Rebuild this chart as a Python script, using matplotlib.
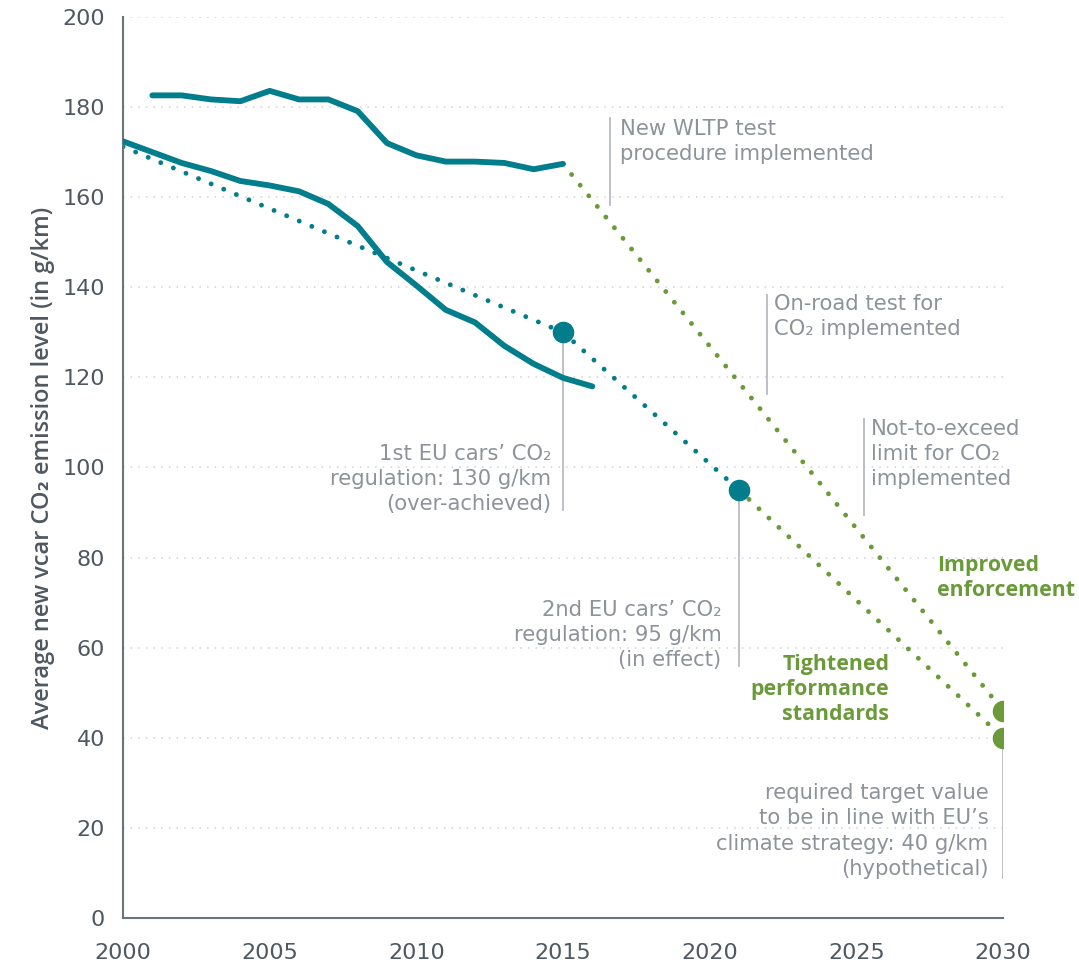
import numpy as np
import matplotlib.pyplot as plt

### New-car CO2 emission levels and EU targets, 2000-2030

# measured fleet average, on-road estimate (upper solid line)
real_years = np.arange(2001, 2016)
real_values = [182.6, 182.6, 181.7, 181.3, 183.6, 181.7, 181.7, 179.1,
               172.0, 169.3, 167.9, 167.9, 167.6, 166.2, 167.4]

# official type-approval values (lower solid line)
official_years = np.arange(2000, 2017)
official_values = [172.4, 170.0, 167.6, 165.8, 163.6, 162.6, 161.3, 158.5,
                   153.6, 145.6, 140.4, 135.0, 132.2, 127.0, 123.0, 119.9, 118.0]

# regulation targets (blue dotted) and 2030 paths (green dotted)
target_years = [2000, 2015, 2021]
target_values = [171.2, 130, 95]
enforcement_years = [2015, 2030]
enforcement_values = [167.4, 46]
standards_years = [2021, 2030]
standards_values = [95, 40]

teal = "#017d8c"
green = "#6b9a3a"
note_grey = "#8d9399"
leader_grey = "#b8bcc0"
axis_grey = "#4f5861"

plt.rcParams['font.family'] = ['DejaVu Sans']

fig = plt.figure(figsize=(10.79, 9.65), dpi=100)
ax = fig.add_axes([0.114, 0.0487, 0.8156, 0.9337])

# grid
for v in range(20, 201, 20):
    ax.axhline(v, color="#cfd2d5", lw=1.1, ls=(0, (1, 4)), zorder=0)

dots = dict(lw=3.5, ls=(0, (0.01, 2.8)), dash_capstyle='round')
ax.plot(target_years, target_values, color=teal, zorder=2, **dots)
ax.plot(enforcement_years, enforcement_values, color=green, zorder=2, **dots)
ax.plot(standards_years, standards_values, color=green, zorder=2, **dots)

ax.plot(real_years, real_values, color=teal, lw=4.2, solid_capstyle='round', zorder=3)
ax.plot(official_years, official_values, color=teal, lw=4.2, solid_capstyle='round', zorder=3)

ax.plot(target_years[1:], target_values[1:], 'o', color=teal, ms=14.5, zorder=4)
ax.plot([enforcement_years[1], standards_years[1]],
        [enforcement_values[1], standards_values[1]], 'o', color=green, ms=14.5, zorder=4)

# leader lines
leaders = [(2016.6, 158.2, 177.6), (2021.95, 116.3, 138.3), (2025.25, 89.5, 110.8),
           (2015, 90.5, 130), (2021, 56.0, 95), (2030, 8.8, 40)]
for lx, y0, y1 in leaders:
    ax.plot([lx, lx], [y0, y1], color=leader_grey, lw=1.3, zorder=1)

note = dict(color=note_grey, fontsize=15.2, linespacing=1.32)
ax.text(2016.95, 177.4, "New WLTP test\nprocedure implemented", ha='left', va='top', **note)
ax.text(2022.2, 138.6, "On-road test for\nCO₂ implemented", ha='left', va='top', **note)
ax.text(2025.5, 110.8, "Not-to-exceed\nlimit for CO₂\nimplemented", ha='left', va='top', **note)
ax.text(2014.6, 105.3, "1st EU cars’ CO₂\nregulation: 130 g/km\n(over-achieved)", ha='right', va='top', **note)
ax.text(2020.4, 70.6, "2nd EU cars’ CO₂\nregulation: 95 g/km\n(in effect)", ha='right', va='top', **note)
ax.text(2029.5, 29.9, "required target value\nto be in line with EU’s\nclimate strategy: 40 g/km\n(hypothetical)",
        ha='right', va='top', **note)

strong = dict(color=green, fontsize=15.4, fontweight='bold', linespacing=1.25,
              family=['Open Sans', 'DejaVu Sans'])
ax.text(2026.12, 58.5, "Tightened\nperformance\nstandards", ha='right', va='top', **strong)
ax.text(2027.74, 80.5, "Improved\nenforcement", ha='left', va='top', **strong)

ax.set_xlim(2000, 2030)
ax.set_ylim(0, 200)
ax.set_xticks(range(2000, 2031, 5))
ax.set_yticks(range(0, 201, 20))
ax.tick_params(length=0, labelsize=16, colors=axis_grey)
ax.tick_params(axis='x', pad=18)
ax.tick_params(axis='y', pad=13)
for side in ['top', 'right']:
    ax.spines[side].set_visible(False)
for side in ['left', 'bottom']:
    ax.spines[side].set_color("#6b737b")
    ax.spines[side].set_linewidth(1.5)
ax.set_ylabel("Average new vcar CO₂ emission level (in g/km)", fontsize=17,
              color=axis_grey, fontweight='semibold', family=['Open Sans', 'DejaVu Sans'],
              labelpad=5)

plt.savefig("out.png", dpi=100)
